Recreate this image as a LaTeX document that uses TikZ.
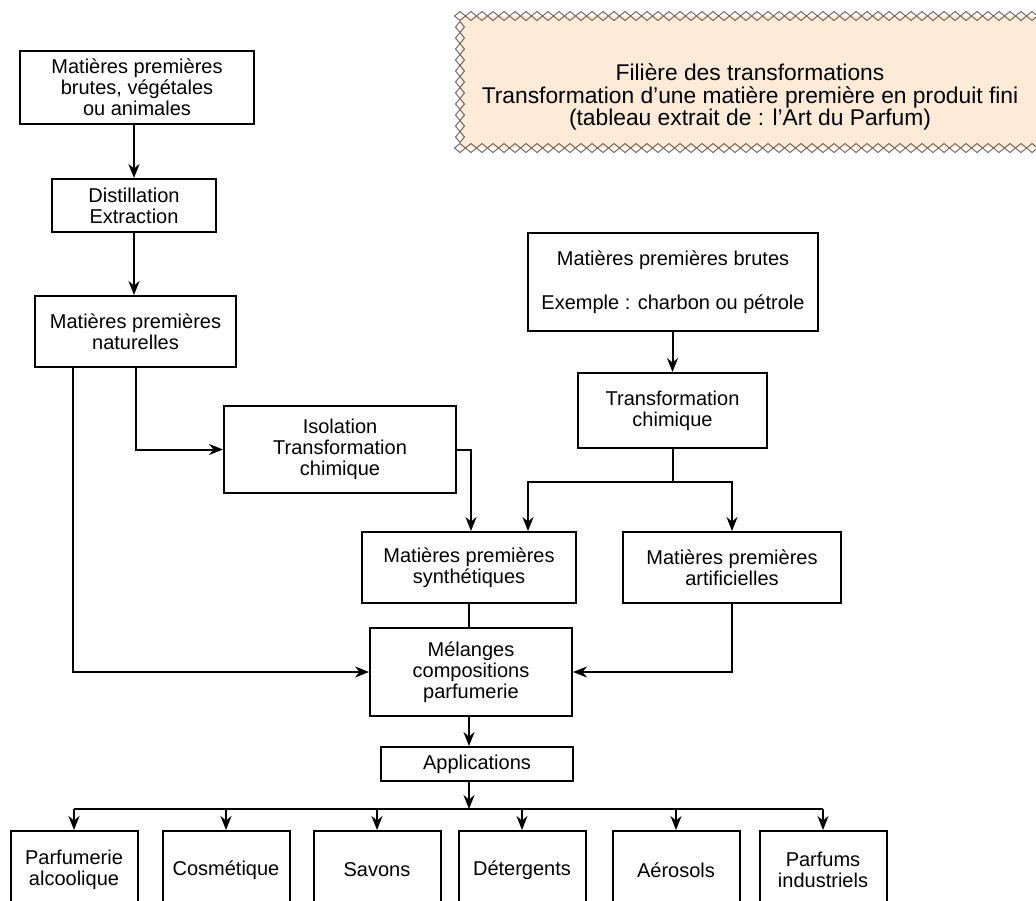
\documentclass[tikz,border=0pt]{standalone}
\usepackage{fontspec}
\setmainfont{Liberation Sans}
\usetikzlibrary{arrows.meta}
\definecolor{peach}{RGB}{253,235,216}
\definecolor{chain}{RGB}{115,105,98}

\begin{document}
\begin{tikzpicture}[
				x=0.5pt, y=-0.5pt,
				>={Stealth[length=7pt,width=5.5pt]},
				box/.style={rectangle, draw=black, line width=1pt, align=center, inner sep=2pt, font=\fontsize{10}{10.5}\selectfont},
				outbox/.style={box, minimum width=63.5pt, minimum height=39pt},
				link/.style={line width=1pt},
				]
				\useasboundingbox (0,0) rectangle (1036,900);
				
				%Title
				\fill[peach] (460,16) rectangle (1040,148);
				\foreach \x in {460,471,...,1045}{
					\draw[chain, line width=0.5pt] (\x,16) +(-5.5,0) -- +(0,-4.5) -- +(5.5,0) -- +(0,4.5) -- cycle;
					\draw[chain, line width=0.5pt] (\x,148) +(-5.5,0) -- +(0,-4.5) -- +(5.5,0) -- +(0,4.5) -- cycle;
				}
				\foreach \y in {27,38,...,137}{
					\draw[chain, line width=0.5pt] (460,\y) +(-4.5,0) -- +(0,-5.5) -- +(4.5,0) -- +(0,5.5) -- cycle;
				}
				\node[align=center, font=\fontsize{11.4}{11.3}\selectfont](title) at (750,97){Filière des transformations\\Transformation d’une matière première en produit fini\\(tableau extrait de : l’Art du Parfum)};
				
				%Nodes
				\node[box, minimum width=117pt, minimum height=36.5pt](raw) at (137,87.5){Matières premières\\brutes, végétales\\ou animales};
				\node[box, minimum width=82pt, minimum height=26.5pt](dist) at (134,205.5){Distillation\\Extraction};
				\node[box, minimum width=100.5pt, minimum height=35.5pt](nat) at (135.5,331.5){Matières premières\\naturelles};
				\node[box, minimum width=116pt, minimum height=43.5pt](iso) at (340,449.5){Isolation\\Transformation\\chimique};
				\node[box, minimum width=145pt, minimum height=49pt](rawchem) at (673,282){Matières premières brutes\\[11.5pt]Exemple : charbon ou pétrole};
				\node[box, minimum width=94.5pt, minimum height=37.5pt](chem) at (672.5,410.5){Transformation\\chimique};
				\node[box, minimum width=107pt, minimum height=35.5pt](synth) at (469,567.5){Matières premières\\synthétiques};
				\node[box, minimum width=109pt, minimum height=35.5pt](artif) at (732,567.5){Matières premières\\artificielles};
				\node[box, minimum width=101pt, minimum height=44pt](mix) at (471,672){Mélanges\\compositions\\parfumerie};
				\node[box, minimum width=96pt, minimum height=17pt](app) at (477,764){Applications};
				\node[outbox](out1) at (74,870){Parfumerie\\alcoolique};
				\node[outbox](out2) at (226,870){Cosmétique};
				\node[outbox](out3) at (377,870){Savons};
				\node[outbox](out4) at (522,870){Détergents};
				\node[outbox](out5) at (676,870){Aérosols};
				\node[outbox](out6) at (823,870){Parfums\\industriels};
				
				%Lines
				\draw[link,->] (raw.south -| dist.north) -- (dist.north);
				\draw[link,->] (dist.south) -- (dist.south |- nat.north);
				\draw[link,->] ([xshift=19.5pt]nat.south west) |- (mix.west);
				\draw[link,->] (nat.south) |- (iso.west);
				\draw[link,->] (iso.east) -| ([xshift=1pt]synth.north);
				\draw[link,->] (rawchem.south -| chem.north) -- (chem.north);
				\draw[link] (chem.south) -- ++(0,33) coordinate (split);
				\draw[link,->] (split) -| ([xshift=29.5pt]synth.north);
				\draw[link,->] (split) -| (artif.north);
				\draw[link] (synth.south) -- (synth.south |- mix.north);
				\draw[link,->] (artif.south) |- (mix.east);
				\draw[link,->] (mix.south -| synth.south) -- (synth.south |- app.north);
				\draw[link,->] (app.south -| synth.south) -- ++(0,27) coordinate (bus);
				\draw[link] (bus -| out1.north) -- (bus -| out6.north);
				\foreach \o in {out1,out2,out3,out4,out5,out6}
					\draw[link,->] (bus -| \o.north) -- (\o.north);
				
\end{tikzpicture}
\end{document}
